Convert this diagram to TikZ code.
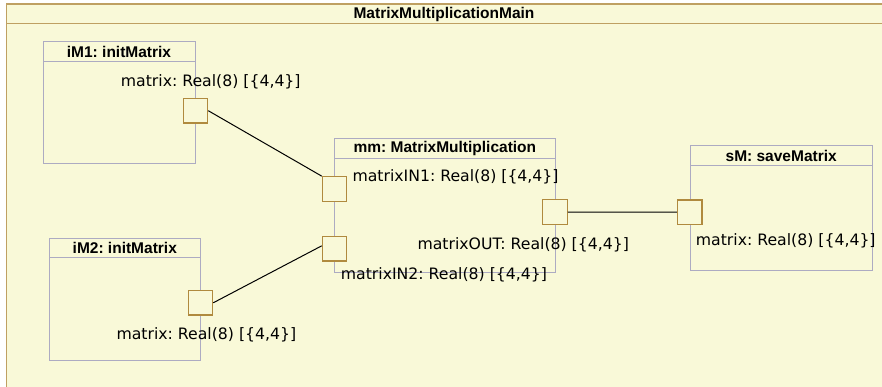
\documentclass[tikz,border=0pt]{standalone}
\usepackage{fontspec}
\setmainfont{DejaVu Sans}
\newfontfamily\headfont{Liberation Sans}
\usetikzlibrary{positioning}
\frenchspacing
\definecolor{paper}{HTML}{F9F9D8}
\definecolor{frameline}{HTML}{BFA062}
\definecolor{blockline}{HTML}{ADABC2}
\definecolor{portline}{HTML}{B08A3E}
\newcommand{\portlabel}{matrix: Real(8) [\{4,4\}]}

\tikzset{
  blockbox/.style={draw=blockline, line width=1pt},
  portbox/.style={draw=portline, fill=paper, line width=1.2pt, minimum size=24.5pt, inner sep=0pt},
  headtext/.style={font=\headfont\bfseries\fontsize{15.5}{18}\selectfont, inner sep=0pt},
  porttext/.style={font=\fontsize{15.7}{18}\selectfont, anchor=base west, inner sep=0pt},
  wire/.style={draw=black, line width=1pt}
}

\begin{document}
\begin{tikzpicture}[x=1pt, y=-1pt]
  \useasboundingbox (0,0) rectangle (882,387);
  \clip (0,0) rectangle (882,387);

  % Outer frame
  \draw[frameline, fill=paper, line width=1.4pt] (6.5,4) rectangle (895,400);
  \draw[frameline, line width=1.4pt] (6.5,23.5) -- (895,23.5);
  \node[headtext] (main) at (444,14) {MatrixMultiplicationMain};

  % Blocks
  \draw[blockbox] (43,42) rectangle (195.5,164);
  \draw[blockbox] (43,62) -- (195.5,62);
  \node[headtext] (im1) at (119,52) {iM1: initMatrix};

  \draw[blockbox] (49,238) rectangle (200.5,360);
  \draw[blockbox] (49,257.5) -- (200.5,257.5);
  \node[headtext] (im2) at (124.8,247.7) {iM2: initMatrix};

  \draw[blockbox] (334.5,139) rectangle (555.3,272.7);
  \draw[blockbox] (334.5,158.3) -- (555.3,158.3);
  \node[headtext] (mm) at (444.9,148.7) {mm: MatrixMultiplication};

  \draw[blockbox] (690,146) rectangle (872.3,270.3);
  \draw[blockbox] (690,165.3) -- (872.3,165.3);
  \node[headtext] (sm) at (781.2,155.7) {sM: saveMatrix};

  % Ports
  \node[portbox] (im1out) at (195.4,110.7) {};
  \node[portbox] (im2out) at (200.4,302.8) {};
  \node[portbox] (mmin1) at (334.6,189) {};
  \node[portbox] (mmin2) at (334.6,248.8) {};
  \node[portbox] (mmout) at (555,212) {};
  \node[portbox] (smin) at (689.8,212.2) {};

  % Port labels
  \node[porttext] (im1lbl) at (120.7,86.7) {\portlabel};
  \node[porttext] (im2lbl) at (116.3,339) {\portlabel};
  \node[porttext] (in1lbl) at (352.3,181.7) {matrixIN1: Real(8) [\{4,4\}]};
  \node[porttext] (in2lbl) at (340.7,279) {matrixIN2: Real(8) [\{4,4\}]};
  \node[porttext] (outlbl) at (417.3,249) {matrixOUT: Real(8) [\{4,4\}]};
  \node[porttext] (smlbl) at (695.7,245) {\portlabel};

  % Connectors
  \draw[wire] (im1out.east) -- (mmin1.north west);
  \draw[wire] (im2out.east) -- ([yshift=3pt]mmin2.west);
  \draw[wire] (mmout.east) -- (smin.west);
\end{tikzpicture}
\end{document}
